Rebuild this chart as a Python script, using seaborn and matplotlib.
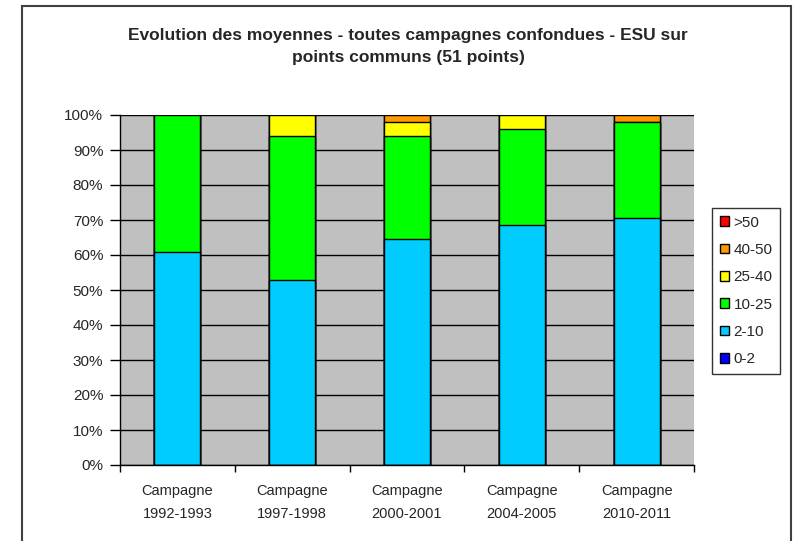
import matplotlib
matplotlib.use("Agg")
import matplotlib.pyplot as plt
from matplotlib.patches import Patch, Rectangle
from matplotlib.ticker import PercentFormatter, FixedLocator
import numpy as np
import pandas as pd
import seaborn as sns

# data: share of the 51 common points per class, for each campaign (%)
campaigns = ["Campagne\n1992-1993", "Campagne\n1997-1998", "Campagne\n2000-2001",
             "Campagne\n2004-2005", "Campagne\n2010-2011"]
classes = ["0-2", "2-10", "10-25", "25-40", "40-50", ">50"]
share_0_2 = [0.0, 0.0, 0.0, 0.0, 0.0]
share_2_10 = [60.8, 52.9, 64.7, 68.6, 70.6]
share_10_25 = [39.2, 41.2, 29.4, 27.5, 27.5]
share_25_40 = [0.0, 5.9, 3.9, 3.9, 0.0]
share_40_50 = [0.0, 0.0, 2.0, 0.0, 1.9]
share_gt_50 = [0.0, 0.0, 0.0, 0.0, 0.0]
colors = ["#0000FF", "#00CCFF", "#00FF00", "#FFFF00", "#FF9900", "#FF0000"]

sns.set_style("white")
plt.rcParams["font.family"] = ["Liberation Sans", "DejaVu Sans"]

shares = np.array([share_0_2, share_2_10, share_10_25, share_25_40, share_40_50, share_gt_50])
cum = np.cumsum(shares, axis=0)

fig = plt.figure(figsize=(7.93, 5.41), dpi=100)
ax = fig.add_axes([120 / 793, 1 - 465 / 541, 574 / 793, 350 / 541])
ax.set_facecolor("#C0C0C0")
ax.set_axisbelow(True)
ax.yaxis.grid(True, color="black", linewidth=1)

# stacked bars: draw cumulative totals from the top class down
for i in range(len(classes) - 1, -1, -1):
    df = pd.DataFrame({"campagne": campaigns, "value": cum[i]})
    sns.barplot(data=df, x="campagne", y="value", order=campaigns, color=colors[i],
                saturation=1, width=0.4, edgecolor="black", linewidth=1, ax=ax)

ax.set_xlim(-0.5, len(campaigns) - 0.5)
ax.set_ylim(0, 100)
ax.set_yticks(np.arange(0, 101, 10))
ax.yaxis.set_major_formatter(PercentFormatter(decimals=0))
ax.set_xlabel("")
ax.set_ylabel("")
ax.tick_params(axis="y", direction="out", length=7, width=1, color="black",
               pad=5, labelsize=11, left=True)
ax.tick_params(axis="x", which="major", length=0, pad=14, labelsize=10.5)
ax.xaxis.set_minor_locator(FixedLocator(np.arange(-0.5, len(campaigns), 1)))
ax.tick_params(axis="x", which="minor", direction="out", length=5, width=1,
               color="black", bottom=True)
for lbl in ax.get_xticklabels():
    lbl.set_linespacing(1.75)
for side in ["left", "bottom"]:
    ax.spines[side].set_color("black")
    ax.spines[side].set_linewidth(1)
for side in ["top", "right"]:
    ax.spines[side].set_visible(False)

handles = [Patch(facecolor=colors[i], edgecolor="black", label=classes[i])
           for i in range(len(classes) - 1, -1, -1)]
leg = fig.legend(handles=handles, loc="upper left",
                 bbox_to_anchor=(712 / 793, 1 - 208 / 541), fontsize=11,
                 handlelength=0.6, handleheight=0.6, handletextpad=0.3,
                 labelspacing=0.87, borderpad=0.5, fancybox=False, frameon=True,
                 borderaxespad=0)
leg.get_frame().set_edgecolor("black")
leg.get_frame().set_linewidth(1)

fig.text(408 / 793, 1 - 46.5 / 541,
         "Evolution des moyennes - toutes campagnes confondues - ESU sur\npoints communs (51 points)",
         ha="center", va="center", fontsize=12.5, fontweight="bold", linespacing=1.6)

fig.patches.append(Rectangle((22 / 793, -0.05), (791 - 22) / 793, 1.05 - 6 / 541,
                             transform=fig.transFigure, fill=False,
                             edgecolor="#404040", linewidth=1.5))

fig.savefig("out.png", dpi=100)
